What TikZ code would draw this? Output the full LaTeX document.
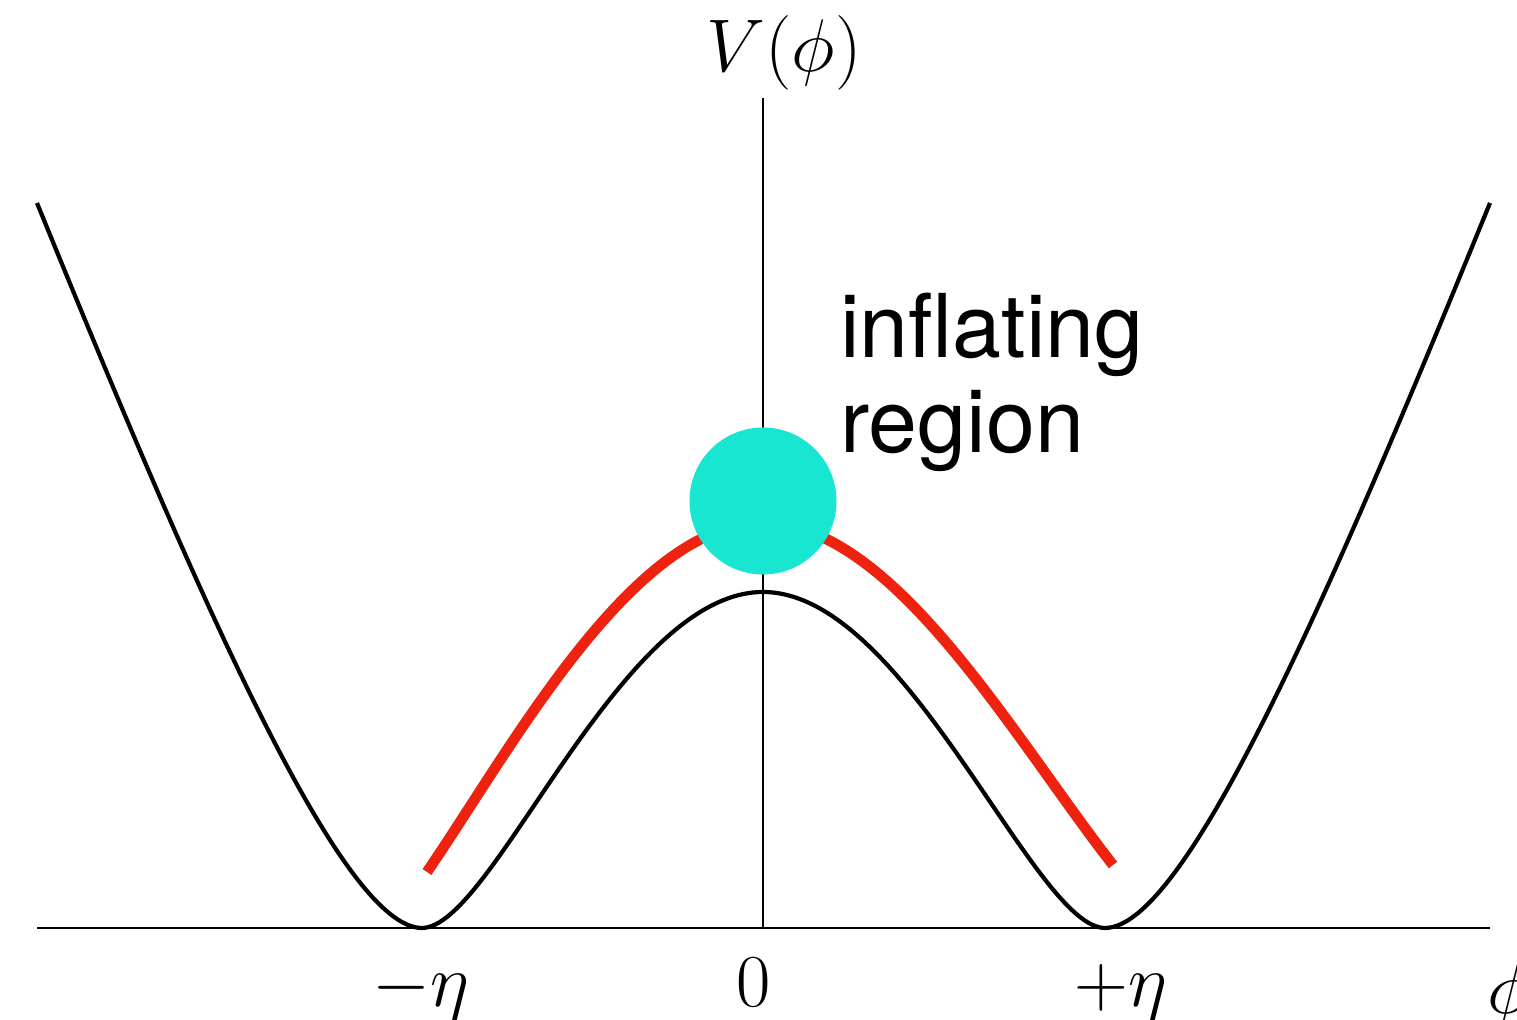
\documentclass[tikz,border=0pt]{standalone}
\usepackage{fontspec}
\newfontfamily\helv{TeX Gyre Heros}
\definecolor{ballcyan}{RGB}{24,230,208}
\definecolor{pathred}{RGB}{238,34,15}
\begin{document}
\begin{tikzpicture}[x=0.5pt,y=0.5pt,
  axisline/.style={line width=1pt},
  potline/.style={line width=2.1pt, line join=round},
  redpath/.style={line width=5.3pt, draw=pathred},
  lab/.style={font=\fontsize{24}{28}\selectfont, scale=1.5, inner sep=0pt},
  txt/.style={font=\helv\fontsize{44}{48}\selectfont, inner sep=0pt, anchor=base west}]
\useasboundingbox (-763,-92) rectangle (754,928);
% axes
\coordinate (xL) at (-726,0);
\coordinate (xR) at (727,0);
\coordinate (yB) at (0,0);
\coordinate (yT) at (0,830);
\draw[axisline] (xL) -- (xR);
\draw[axisline] (yB) -- (yT);
% potential
\coordinate (pL) at (-726,725);
\coordinate (mL) at (-341,0);
\coordinate (top) at (0,336);
\coordinate (mR) at (342,0);
\coordinate (pR) at (727,725);
\draw[potline] (pL) .. controls (-560,318) and (-420,0) .. (mL)
  .. controls (-270,0) and (-144,336) .. (top)
  .. controls (144,336) and (271,0) .. (mR)
  .. controls (421,0) and (561,318) .. (pR);
% red path
\coordinate (rL) at (-336,56);
\coordinate (rT) at (0,405);
\coordinate (rR) at (350,63);
\draw[redpath] (rL) .. controls (-250,182) and (-130,405) .. (rT)
  .. controls (130,405) and (250,191) .. (rR);
% inflating ball
\node[circle, fill=ballcyan, minimum size=73.5pt, inner sep=0pt] (ball) at (0,427) {};
% labels
\node[lab, anchor=base] (Vlab) at (21,856) {$V(\phi)$};
\node[lab, anchor=base] (meta) at (-342,-79) {$-\eta$};
\node[lab, anchor=base] (zero) at (-9,-79) {$0$};
\node[lab, anchor=base] (peta) at (358,-79) {$+\eta$};
\node[lab, anchor=base west] (philab) at (724,-86) {$\phi$};
\node[txt] (infl1) at (77,570) {inflating};
\node[txt] (infl2) at (77,475) {region};
\end{tikzpicture}
\end{document}
